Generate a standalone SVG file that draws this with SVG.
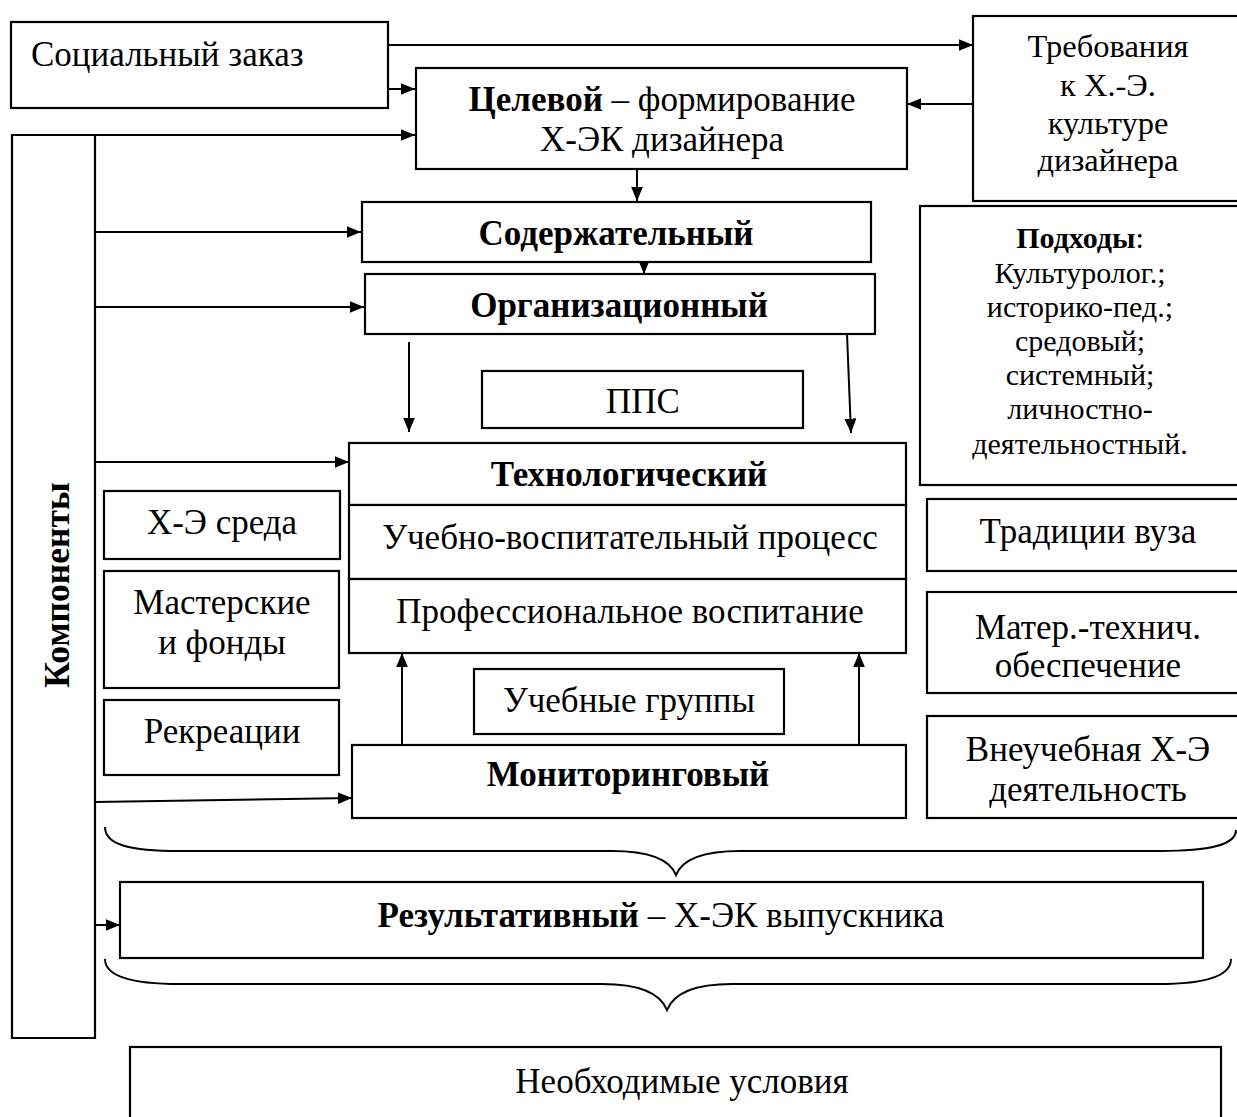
<svg xmlns="http://www.w3.org/2000/svg" width="1237" height="1117" viewBox="0 0 1237 1117">
<defs>
<marker id="ah" viewBox="0 0 12 10" refX="12" refY="5" markerWidth="7.2" markerHeight="6" orient="auto" markerUnits="strokeWidth">
<path d="M0,0 L12,5 L0,10 z" fill="#000"/>
</marker>
<style>
.b{fill:#fff;stroke:#000;stroke-width:2.2}
.t{font-family:"Liberation Serif","Times New Roman",serif;font-size:35px;fill:#000;text-anchor:middle}
.bd{font-weight:bold}
.s{font-size:32.5px}
.p{font-size:30px}
.c{fill:none;stroke:#000;stroke-width:2}
.a{marker-end:url(#ah)}
</style>
</defs>
<rect width="1237" height="1117" fill="#fff"/>
<g id="connectors">
<path class="c a" d="M388,45 L973,45"/>
<path class="c a" d="M388,89 L415,89"/>
<path class="c a" d="M95,135 L415,135"/>
<path class="c a" d="M973,104 L907,104"/>
<path class="c a" d="M637,169 L637,201"/>
<path class="c a" d="M95,232 L361,232"/>
<path class="c a" d="M644,262 L644,274"/>
<path class="c a" d="M95,307 L364,307"/>
<path class="c a" d="M409,342 L409,432"/>
<path class="c a" d="M847,334 L851,433"/>
<path class="c a" d="M95,462 L349,462"/>
<path class="c a" d="M402,745 L402,653"/>
<path class="c a" d="M859,745 L859,653"/>
<path class="c a" d="M95,802 L352,798"/>
<path class="c a" d="M95,925 L120,925"/>
<path class="c" d="M105,827 C105,845 130,851 180,851 L612,851 C652,851 670,860 676,875 C682,860 700,851 740,851 L1160,851 C1210,851 1236,845 1236,830"/>
<path class="c" d="M105,959 C105,976 130,984 180,984 L602,984 C642,984 661,995 667,1010 C673,995 692,984 732,984 L1158,984 C1205,984 1231,976 1231,959"/>
</g>
<g id="social"><rect class="b" x="11" y="22" width="377" height="86"/><text class="t" x="31" y="66" style="text-anchor:start">Социальный заказ</text></g>
<g id="trebovaniya"><rect class="b" x="973" y="16" width="270" height="185"/>
<text class="t s" x="1108" y="57">Требования</text><text class="t s" x="1108" y="96">к Х.-Э.</text><text class="t s" x="1108" y="134">культуре</text><text class="t s" x="1108" y="171">дизайнера</text></g>
<g id="celevoy"><rect class="b" x="416" y="68" width="491" height="101"/>
<text class="t" x="662" y="111"><tspan class="bd">Целевой</tspan> – формирование</text><text class="t" x="662" y="151">Х-ЭК дизайнера</text></g>
<g id="komponenty"><path class="b" d="M95,135 L12,135 L12,1038 L95,1038 Z"/><text class="t bd" transform="translate(69,585) rotate(-90)" style="font-size:35.5px">Компоненты</text></g>
<g id="soderzh"><rect class="b" x="362" y="202" width="509" height="60"/><text class="t bd" x="616" y="245">Содержательный</text></g>
<g id="organiz"><rect class="b" x="365" y="274" width="510" height="60"/><text class="t bd" x="619" y="317">Организационный</text></g>
<g id="podhody"><rect class="b" x="920" y="206" width="323" height="279"/>
<text class="t p" x="1080" y="248"><tspan class="bd">Подходы</tspan>:</text>
<text class="t p" x="1080" y="283">Культуролог.;</text>
<text class="t p" x="1080" y="317">историко-пед.;</text>
<text class="t p" x="1080" y="351">средовый;</text>
<text class="t p" x="1080" y="385">системный;</text>
<text class="t p" x="1080" y="419">личностно-</text>
<text class="t p" x="1080" y="454">деятельностный.</text></g>
<g id="pps"><rect class="b" x="482" y="371" width="321" height="57"/><text class="t" x="643" y="413">ППС</text></g>
<g id="tehnolog"><rect class="b" x="349" y="443" width="557" height="62"/><text class="t bd" x="629" y="486">Технологический</text></g>
<g id="uvp"><rect class="b" x="349" y="505" width="557" height="74"/><text class="t" x="630" y="549">Учебно-воспитательный процесс</text></g>
<g id="prof"><rect class="b" x="349" y="579" width="557" height="74"/><text class="t" x="630" y="623">Профессиональное воспитание</text></g>
<g id="xe-sreda"><rect class="b" x="104" y="491" width="236" height="68"/><text class="t" x="222" y="534">Х-Э среда</text></g>
<g id="masterskie"><rect class="b" x="104" y="571" width="235" height="117"/><text class="t" x="222" y="614">Мастерские</text><text class="t" x="222" y="654">и фонды</text></g>
<g id="rekreacii"><rect class="b" x="104" y="700" width="235" height="75"/><text class="t" x="222" y="743">Рекреации</text></g>
<g id="gruppy"><rect class="b" x="474" y="669" width="310" height="65"/><text class="t" x="629" y="712">Учебные группы</text></g>
<g id="monitoring"><rect class="b" x="352" y="745" width="554" height="73"/><text class="t bd" x="628" y="786">Мониторинговый</text></g>
<g id="tradicii"><rect class="b" x="927" y="499" width="316" height="72"/><text class="t" x="1088" y="543">Традиции вуза</text></g>
<g id="mater"><rect class="b" x="927" y="592" width="316" height="101"/><text class="t" x="1088" y="639">Матер.-технич.</text><text class="t" x="1088" y="677">обеспечение</text></g>
<g id="vneucheb"><rect class="b" x="927" y="716" width="316" height="102"/><text class="t" x="1088" y="761">Внеучебная Х-Э</text><text class="t" x="1088" y="801">деятельность</text></g>
<g id="rezult"><rect class="b" x="120" y="882" width="1083" height="76"/><text class="t" x="661" y="927"><tspan class="bd">Результативный</tspan> – Х-ЭК выпускника</text></g>
<g id="usloviya"><rect class="b" x="130" y="1047" width="1091" height="80"/><text class="t" x="682" y="1093">Необходимые условия</text></g>
</svg>
